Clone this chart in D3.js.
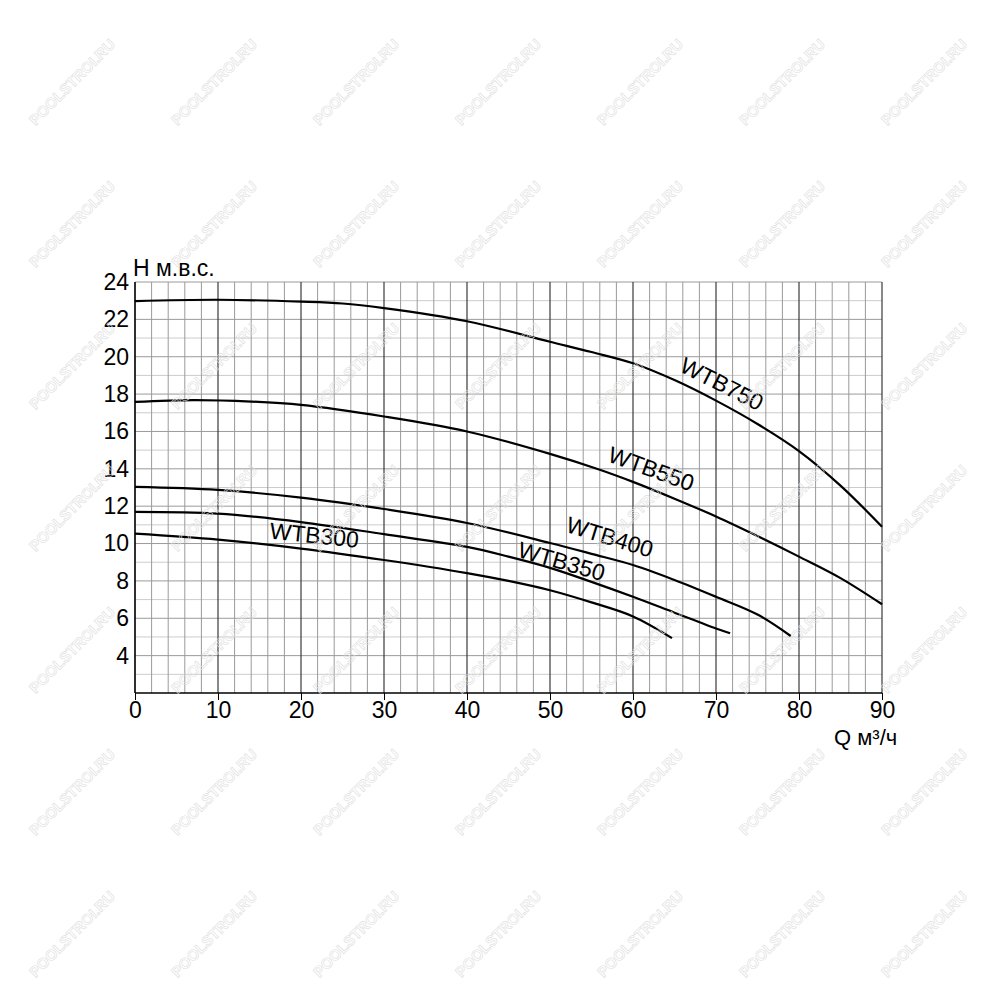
<!DOCTYPE html>
<html><head><meta charset="utf-8">
<script src="https://cdn.jsdelivr.net/npm/d3@7"></script>
<style>body{margin:0;background:#fff}svg{display:block}text{font-family:"Liberation Sans",Arial,sans-serif}</style>
</head><body>
<svg id="c" width="1000" height="1000"></svg>
<script>
const xTicks = [0,10,20,30,40,50,60,70,80,90];
const yTicks = [4,6,8,10,12,14,16,18,20,22,24];
const wtb750 = [[0,22.98],[10,23.05],[20,22.95],[25,22.85],[30,22.6],[40,21.9],[50,20.8],[55,20.25],[60,19.65],[65,18.75],[70,17.65],[75,16.4],[80,14.95],[85,13.1],[90,10.9]];
const wtb550 = [[0,17.58],[7,17.68],[14,17.6],[20,17.42],[30,16.8],[40,16.0],[50,14.8],[56,13.95],[60,13.3],[65,12.4],[70,11.45],[75,10.4],[80,9.3],[85,8.15],[90,6.75]];
const wtb400 = [[0,13.03],[10,12.87],[20,12.46],[30,11.85],[40,11.1],[50,10.03],[55,9.45],[60,8.85],[65,8.05],[70,7.15],[75,6.2],[79,5.05]];
const wtb350 = [[0,11.7],[10,11.6],[20,11.15],[30,10.5],[40,9.82],[45,9.3],[50,8.7],[55,7.95],[60,7.15],[65,6.3],[70,5.45],[71.7,5.2]];
const wtb300 = [[0,10.53],[10,10.21],[20,9.73],[30,9.12],[40,8.42],[45,8.0],[50,7.5],[55,6.85],[60,6.1],[64.7,4.94]];
const series = [
  {name:"WTB750", data:wtb750, lx:70.7, ly:18.55, rot:27},
  {name:"WTB550", data:wtb550, lx:62.2, ly:14.0, rot:20},
  {name:"WTB400", data:wtb400, lx:57.2, ly:10.35, rot:17},
  {name:"WTB350", data:wtb350, lx:51.4, ly:9.05, rot:16},
  {name:"WTB300", data:wtb300, lx:21.6, ly:10.45, rot:6}
];

const svg = d3.select("#c");
const x = d3.scaleLinear().domain([0,90]).range([135,882]);
const y = d3.scaleLinear().domain([2,24]).range([693,282]);
const FS = 23;

// grid
const g = svg.append("g");
for (let v=3; v<=24; v+=1) {
  g.append("line").attr("x1",x(0)).attr("x2",x(90)).attr("y1",y(v)).attr("y2",y(v))
   .attr("stroke", v%2===0 ? "#9a9a9a" : "#cccccc").attr("stroke-width",1);
}
for (let v=0; v<=90; v+=2) {
  g.append("line").attr("x1",x(v)).attr("x2",x(v)).attr("y1",y(2)).attr("y2",y(24))
   .attr("stroke", v%10===0 ? "#3a3a3a" : "#9a9a9a").attr("stroke-width", v%10===0 ? 1.2 : 1);
}
// axes
svg.append("line").attr("x1",x(0)).attr("x2",x(0)).attr("y1",y(2)).attr("y2",y(24)).attr("stroke","#000").attr("stroke-width",1.3);
svg.append("line").attr("x1",x(0)).attr("x2",x(90)).attr("y1",y(2)).attr("y2",y(2)).attr("stroke","#000").attr("stroke-width",1.3);

const xa = svg.append("g").attr("transform",`translate(0,${y(2)})`)
  .call(d3.axisBottom(x).tickValues(xTicks).tickSize(7).tickSizeOuter(0).tickPadding(2));
xa.select(".domain").remove();
xa.selectAll("text").attr("font-size",FS).attr("fill","#000").attr("font-family","Liberation Sans, Arial");
xa.selectAll("line").attr("stroke","#000");

const ya = svg.append("g").attr("transform",`translate(${x(0)},0)`)
  .call(d3.axisLeft(y).tickValues(yTicks).tickSize(0).tickPadding(6));
ya.select(".domain").remove();
ya.selectAll("text").attr("font-size",FS).attr("fill","#000").attr("font-family","Liberation Sans, Arial");

svg.append("text").attr("x",133).attr("y",276).attr("font-size",FS).text("H м.в.с.");
svg.append("text").attr("x",834).attr("y",745).attr("font-size",22).text("Q м³/ч");

const line = d3.line().x(d=>x(d[0])).y(d=>y(d[1])).curve(d3.curveCatmullRom.alpha(0.5));
series.forEach(s=>{
  svg.append("path").attr("d",line(s.data)).attr("fill","none").attr("stroke","#000").attr("stroke-width",2.2);
  svg.append("text").attr("transform",`translate(${x(s.lx)},${y(s.ly)}) rotate(${s.rot})`)
    .attr("text-anchor","middle").attr("dominant-baseline","central").attr("font-size",FS).text(s.name);
});

// watermarks
const wm = svg.append("g").attr("pointer-events","none");
for (let r=0; r<7; r++) for (let c=0; c<7; c++) {
  wm.append("text").attr("transform",`translate(${73+c*142},${83+r*142}) rotate(-45)`)
    .attr("text-anchor","middle").attr("dominant-baseline","middle")
    .attr("font-size",15).attr("font-weight","bold").attr("fill","none")
    .attr("stroke","#dedede").attr("stroke-width",0.6).text("POOLSTROI.RU");
}
</script>
</body></html>
